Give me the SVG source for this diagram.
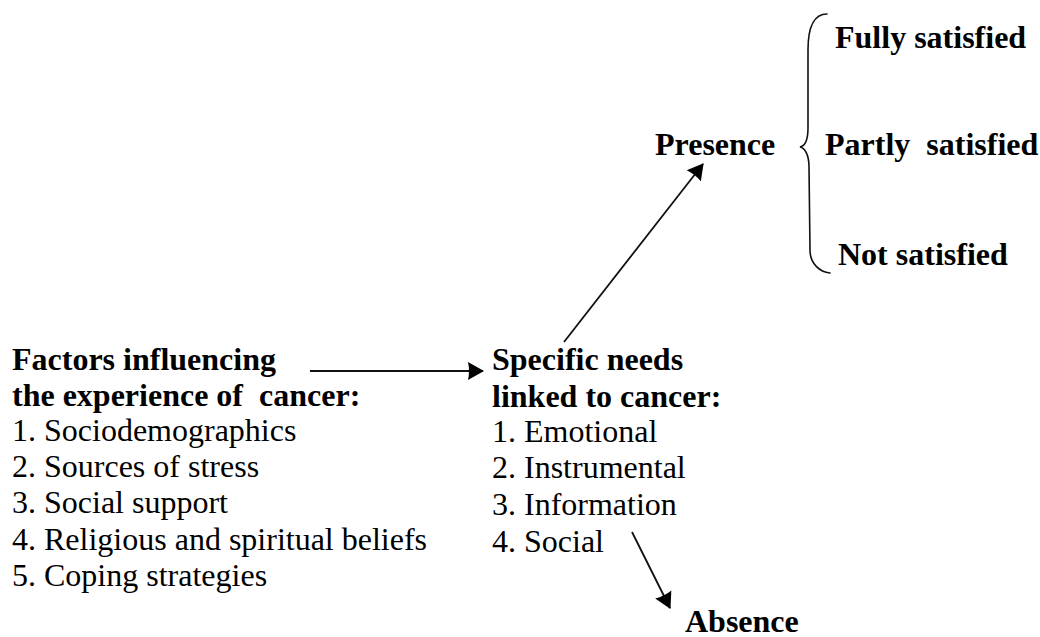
<svg xmlns="http://www.w3.org/2000/svg" width="1040" height="637" viewBox="0 0 1040 637">
<style>
text{font-family:"Liberation Serif","Times New Roman",serif;font-size:32px;fill:#000;white-space:pre}
.b{font-weight:bold}
.conn{stroke:#111;stroke-width:1.8;fill:none}
.brace{stroke:#111;stroke-width:1.6;fill:none;stroke-linecap:round}
</style>
<defs>
<marker id="ah" viewBox="0 0 16 20" refX="15" refY="10" markerWidth="16" markerHeight="20" markerUnits="userSpaceOnUse" orient="auto">
<path d="M0,1 L16,10 L0,19 Q2,10 0,1 Z" fill="#000"/>
</marker>
</defs>
<rect width="1040" height="637" fill="#fff"/>
<g id="factors">
<text class="b" x="12" y="370">Factors influencing</text>
<text class="b" x="12" y="406" xml:space="preserve">the experience of  cancer:</text>
<text x="12" y="441">1. Sociodemographics</text>
<text x="12" y="477">2. Sources of stress</text>
<text x="12" y="513">3. Social support</text>
<text x="12" y="550">4. Religious and spiritual beliefs</text>
<text x="12" y="586">5. Coping strategies</text>
</g>
<g id="needs">
<text class="b" x="492" y="370">Specific needs</text>
<text class="b" x="492" y="407">linked to cancer:</text>
<text x="492" y="442">1. Emotional</text>
<text x="492" y="478">2. Instrumental</text>
<text x="492" y="515">3. Information</text>
<text x="492" y="552">4. Social</text>
</g>
<g id="presence">
<text class="b" x="655" y="155">Presence</text>
</g>
<g id="absence">
<text class="b" x="685" y="632">Absence</text>
</g>
<g id="outcomes">
<path class="brace" d="M827,14 C815,14 808,26 808,50 L808,128 C808,140 805,146 800,147 C805,148 809,155 809,167 L810,250 C810,264 820,272 830,273"/>
<text class="b" x="835" y="48">Fully satisfied</text>
<text class="b" x="825" y="155" xml:space="preserve">Partly  satisfied</text>
<text class="b" x="838" y="265">Not satisfied</text>
</g>
<g id="connectors">
<line class="conn" x1="310" y1="371" x2="483" y2="371" marker-end="url(#ah)"/>
<line class="conn" x1="564" y1="342" x2="703" y2="164" marker-end="url(#ah)"/>
<line class="conn" x1="632" y1="532" x2="670" y2="608" marker-end="url(#ah)"/>
</g>
</svg>
